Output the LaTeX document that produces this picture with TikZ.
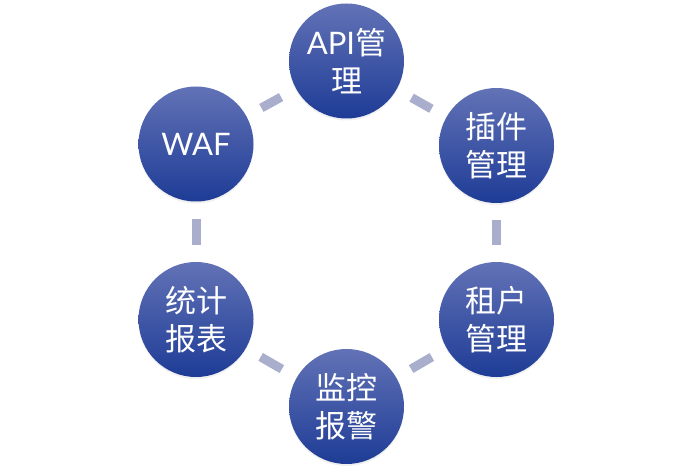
\documentclass[tikz,border=0pt]{standalone}
\usepackage{fontspec}
\setmainfont{Noto Sans CJK SC}
\newfontfamily\latinf{Lato}
\usetikzlibrary{shadows}
\definecolor{ctop}{RGB}{98,114,182}
\definecolor{cbot}{RGB}{30,60,150}
\definecolor{barc}{RGB}{168,174,204}
\tikzset{
  bubble/.style={circle, minimum size=115pt, inner sep=0pt, top color=ctop, bottom color=cbot,
    draw=none, text=white, align=center, font=\fontsize{31pt}{38pt}\selectfont,
    drop shadow={opacity=0.12, shadow xshift=0pt, shadow yshift=-2pt}},
  link/.style={draw=barc, line width=9pt, shorten <=17pt, shorten >=17pt}
}
\begin{document}
\begin{tikzpicture}[x=1pt,y=-1pt]
\useasboundingbox (0,0) rectangle (693,473);
\node[bubble] (api) at (346.5,61) {{\latinf API}管\\理};
\node[bubble] (plug) at (496.5,145.5) {插件\\管理};
\node[bubble] (ten) at (496.5,319.5) {租户\\管理};
\node[bubble] (mon) at (346.5,406.5) {监控\\报警};
\node[bubble] (stat) at (196,319.5) {统计\\报表};
\node[bubble] (waf) at (196,144) {\latinf WAF};
\draw[link] (api) -- (plug);
\draw[link] (plug) -- (ten);
\draw[link] (ten) -- (mon);
\draw[link] (mon) -- (stat);
\draw[link] (stat) -- (waf);
\draw[link] (waf) -- (api);
\end{tikzpicture}
\end{document}
